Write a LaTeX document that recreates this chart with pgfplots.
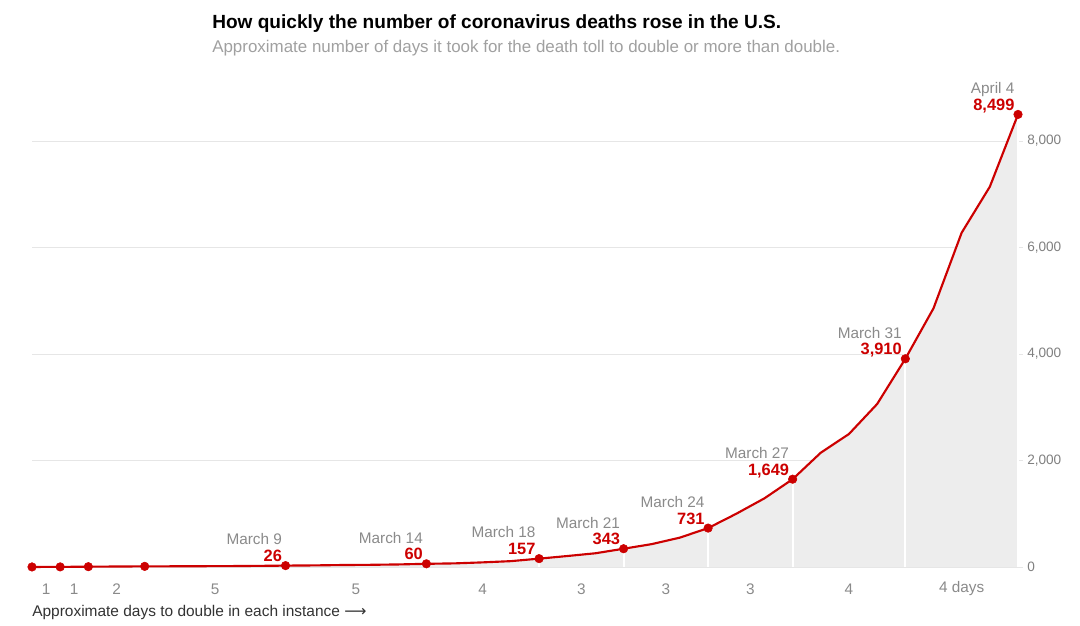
\documentclass[border=0pt]{standalone}
\usepackage{pgfplots}
\pgfplotsset{compat=1.18}
\usepackage{pgfplotstable}
\usepackage{fontspec}
\setmainfont{Liberation Sans}
\newfontfamily\dejavu{DejaVu Sans}
\definecolor{nytred}{HTML}{CC0000}
\definecolor{labgray}{HTML}{8A8A8A}
\definecolor{tickgray}{HTML}{808080}
\definecolor{subgray}{HTML}{A0A0A0}
\definecolor{gridgray}{HTML}{E6E6E6}
\definecolor{fillgray}{HTML}{EDEDED}
\definecolor{capgray}{HTML}{333333}

\pgfplotstableread{
x y
0 1
1 2
2 6
3 9
4 12
5 13
6 15
7 17
8 21
9 26
10 30
11 37
12 41
13 48
14 60
15 68
16 87
17 110
18 157
19 206
20 258
21 343
22 430
23 552
24 731
25 1000
26 1290
27 1649
28 2147
29 2498
30 3061
31 3910
32 4858
33 6278
34 7142
35 8499
}\daily

\pgfplotstableread{
x y
0 1
1 2
2 6
4 12
}\smalldots

\pgfplotstableread[col sep=semicolon]{
x;y;date;lab
9;26;March 9;26
14;60;March 14;60
18;157;March 18;157
21;343;March 21;343
24;731;March 24;731
27;1649;March 27;1,649
31;3910;March 31;3,910
35;8499;April 4;8,499
}\bigdots

\pgfplotstableread[col sep=semicolon]{
x;y;lab
0.5;-413;1
1.5;-413;1
3;-413;2
6.5;-413;5
11.5;-413;5
16;-413;4
19.5;-413;3
22.5;-413;3
25.5;-413;3
29;-413;4
33;-413;4 days
}\doubling

\begin{document}
\begin{tikzpicture}
\path (0pt,0pt) rectangle (810pt,468.75pt);
\begin{axis}[
  at={(24pt,43.5pt)}, anchor=south west,
  scale only axis, width=739.5pt, height=339.47pt,
  xmin=0, xmax=35, ymin=0, ymax=8500,
  clip=false,
  axis line style={draw=none},
  xtick=\empty,
  ytick={0,2000,4000,6000,8000},
  ytick pos=right,
  yticklabel pos=right,
  scaled y ticks=false,
  /pgf/number format/.cd, 1000 sep={,}, assume math mode=true,
  /pgfplots/.cd,
  tick align=outside,
  major tick length=3.75pt,
  ytick style={draw=gridgray, line width=0.75pt},
  yticklabel style={font=\fontsize{10.2}{12}\selectfont, text=tickgray, anchor=west, inner sep=0pt, xshift=3pt},
  ymajorgrids,
  grid style={draw=gridgray, line width=0.75pt},
]
\addplot[fill=fillgray, draw=none] table[x=x,y=y] {\daily} \closedcycle;
\addplot[ycomb, draw=white, line width=1.5pt, mark=none] table[x=x,y=y] {\bigdots};
\addplot[nytred, line width=1.6pt, mark=none] table[x=x,y=y] {\daily};
\addplot[only marks, mark=*, mark size=3.2pt, color=nytred] table[x=x,y=y] {\smalldots};
\addplot[only marks, mark=*, mark size=3.2pt, color=nytred,
  point meta=explicit symbolic,
  nodes near coords,
  every node near coord/.style={anchor=base east, inner sep=0pt, xshift=-2.5pt, yshift=3pt,
     font=\fontsize{12.3}{14}\selectfont\bfseries, text=nytred}]
  table[x=x,y=y,meta=lab] {\bigdots};
\addplot[draw=none, mark=none,
  point meta=explicit symbolic,
  nodes near coords,
  every node near coord/.style={anchor=base east, inner sep=0pt, xshift=-2.5pt, yshift=15.5pt,
     font=\fontsize{11.5}{14}\selectfont, text=labgray}]
  table[x=x,y=y,meta=date] {\bigdots};
\addplot[draw=none, mark=none,
  point meta=explicit symbolic,
  nodes near coords,
  every node near coord/.style={anchor=center, inner sep=0pt,
     font=\fontsize{11.5}{14}\selectfont, text=labgray}]
  table[x=x,y=y,meta=lab] {\doubling};
\end{axis}
\node[anchor=west, inner sep=0pt, font=\fontsize{14.3}{17}\selectfont\bfseries, text=black] at (159pt,450.75pt) {How quickly the number of coronavirus deaths rose in the U.S.};
\node[anchor=west, inner sep=0pt, font=\fontsize{12.7}{15}\selectfont, text=subgray] at (159pt,432.75pt) {Approximate number of days it took for the death toll to double or more than double.};
\node[anchor=west, inner sep=0pt, font=\fontsize{11.6}{14}\selectfont, text=capgray] at (24pt,9.4pt) {Approximate days to double in each instance {\dejavu ⟶}};
\end{tikzpicture}
\end{document}
